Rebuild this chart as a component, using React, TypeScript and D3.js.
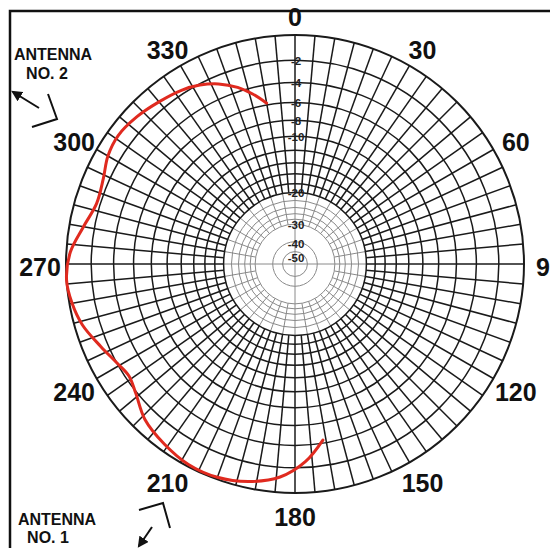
import React from "react";
import * as d3 from "d3";

// Measured field pattern: bearing (degrees) and relative level (dB)
const patternAngles = [350, 346, 342, 337, 332, 327, 320, 313, 306, 300, 294, 287, 280, 273, 266, 260, 254, 247, 241, 236, 231, 224, 216, 208, 200, 192, 184, 177, 171];
const patternDb = [-5.8, -4.6, -3.6, -2.7, -2.1, -1.7, -1.35, -1.0, -0.8, -1.0, -1.5, -1.7, -1.1, -0.3, 0, -0.2, -0.6, -1.4, -2.0, -2.3, -1.9, -1.0, -0.5, -0.15, -0.15, -0.5, -1.2, -2.5, -4.3];

// Grid definition
const bearingLabels = [0, 30, 60, 90, 120, 150, 180, 210, 240, 270, 300, 330];
const majorRingsDb = [0, -2, -4, -6, -8, -10, -12, -14, -16, -18, -20];
const minorRingsDb = [-22, -24, -26, -28, -30];
const centerRingsDb = [-40, -50];
const dbLabels = [-2, -4, -6, -8, -10, -20, -30, -40, -50];

const W = 550;
const H = 548;
const cx = 295;
const cy = 264;
const R = 229;

// ARRL log-periodic radial scale: each 2 dB step shrinks the radius by 0.89
const levelToSteps = d3.scaleLinear().domain([0, -2]).range([0, 1]);
const rScale = (db: number) => R * Math.pow(0.89, levelToSteps(db));

const rad = (deg: number) => (deg * Math.PI) / 180;
const px = (deg: number, r: number) => cx + r * Math.sin(rad(deg));
const py = (deg: number, r: number) => cy - r * Math.cos(rad(deg));

// vertical nudge of each level label relative to its ring
const labelNudge = (d: number) => (d === -50 ? 10 : d === -40 ? 6.5 : 4.5);

export default function App() {
  const majorSpokes = d3.range(0, 360, 5);
  const minorSpokes = d3.range(0, 360, 10);

  const pattern = patternAngles.map((a, i) => [a, patternDb[i]] as [number, number]);
  const line = d3
    .lineRadial<[number, number]>()
    .angle((d) => rad(d[0]))
    .radius((d) => rScale(d[1]))
    .curve(d3.curveCatmullRom.alpha(0.5));

  const font = "'Liberation Sans', Arial, Helvetica, sans-serif";

  return (
    <svg
      width={W}
      height={H}
      viewBox={`0 0 ${W} ${H}`}
      style={{ position: "absolute", left: 0, top: 0, background: "#fff" }}
    >
      <defs>
        <marker
          id="arrowHead"
          viewBox="0 0 10 10"
          refX="8"
          refY="5"
          markerWidth="5.5"
          markerHeight="5.5"
          orient="auto"
        >
          <path d="M0,0 L10,5 L0,10 z" fill="#111" />
        </marker>
      </defs>
      <rect width={W} height={H} fill="#fff" />
      <rect x={10} y={11} width={700} height={700} fill="none" stroke="#111" strokeWidth={2.5} />

      {/* inner light grid */}
      <g stroke="#8a8a8a" strokeWidth={1} fill="none">
        {minorRingsDb.map((d) => (
          <circle key={`mr${d}`} cx={cx} cy={cy} r={rScale(d)} />
        ))}
        {centerRingsDb.map((d) => (
          <circle key={`cr${d}`} cx={cx} cy={cy} r={rScale(d)} />
        ))}
        {minorSpokes.map((a) => (
          <line
            key={`ms${a}`}
            x1={px(a, rScale(-30))}
            y1={py(a, rScale(-30))}
            x2={px(a, rScale(-20))}
            y2={py(a, rScale(-20))}
          />
        ))}
        {[0, 90, 180, 270].map((a) => (
          <line key={`ax${a}`} x1={cx} y1={cy} x2={px(a, rScale(-30))} y2={py(a, rScale(-30))} />
        ))}
      </g>

      {/* outer heavy grid */}
      <g stroke="#1a1a1a" strokeWidth={1.5} fill="none">
        {majorSpokes.map((a) => (
          <line
            key={`s${a}`}
            x1={px(a, rScale(-20))}
            y1={py(a, rScale(-20))}
            x2={px(a, R)}
            y2={py(a, R)}
          />
        ))}
        {majorRingsDb.map((d) => (
          <circle key={`r${d}`} cx={cx} cy={cy} r={rScale(d)} strokeWidth={d === 0 ? 2 : 1.5} />
        ))}
      </g>

      {/* level labels along the 0° axis */}
      <g fontFamily={font} fontSize={11.5} fontWeight="bold" fill="#222" textAnchor="middle">
        {dbLabels.map((d) => (
          <text key={`l${d}`} x={cx + 1} y={cy - rScale(d) + labelNudge(d)}>
            {d}
          </text>
        ))}
      </g>

      {/* pattern */}
      <path
        d={line(pattern) || ""}
        transform={`translate(${cx},${cy})`}
        fill="none"
        stroke="#e02a1f"
        strokeWidth={3}
        strokeLinecap="round"
      />

      {/* bearing labels */}
      <g fontFamily={font} fontSize={25} fontWeight="bold" fill="#111" textAnchor="middle">
        {bearingLabels.map((a) => (
          <text
            key={`b${a}`}
            x={cx + 255 * Math.sin(rad(a))}
            y={cy + 5 - 250 * Math.cos(rad(a))}
            dominantBaseline="middle"
          >
            {a}
          </text>
        ))}
      </g>

      {/* antenna annotations */}
      <g fontFamily={font} fontSize={16} fontWeight="bold" fill="#111" textAnchor="middle">
        <text x={53} y={60}>ANTENNA</text>
        <text x={47} y={79}>NO. 2</text>
        <text x={57} y={525}>ANTENNA</text>
        <text x={48} y={543}>NO. 1</text>
      </g>
      <g stroke="#111" strokeWidth={2} fill="none">
        <line x1={39} y1={108} x2={13} y2={92} markerEnd="url(#arrowHead)" />
        <polyline points="48,94 57,119 32,127" />
        <line x1={152} y1={527} x2={139} y2={546} markerEnd="url(#arrowHead)" />
        <polyline points="139,510 163,503 170,528" />
      </g>
    </svg>
  );
}
